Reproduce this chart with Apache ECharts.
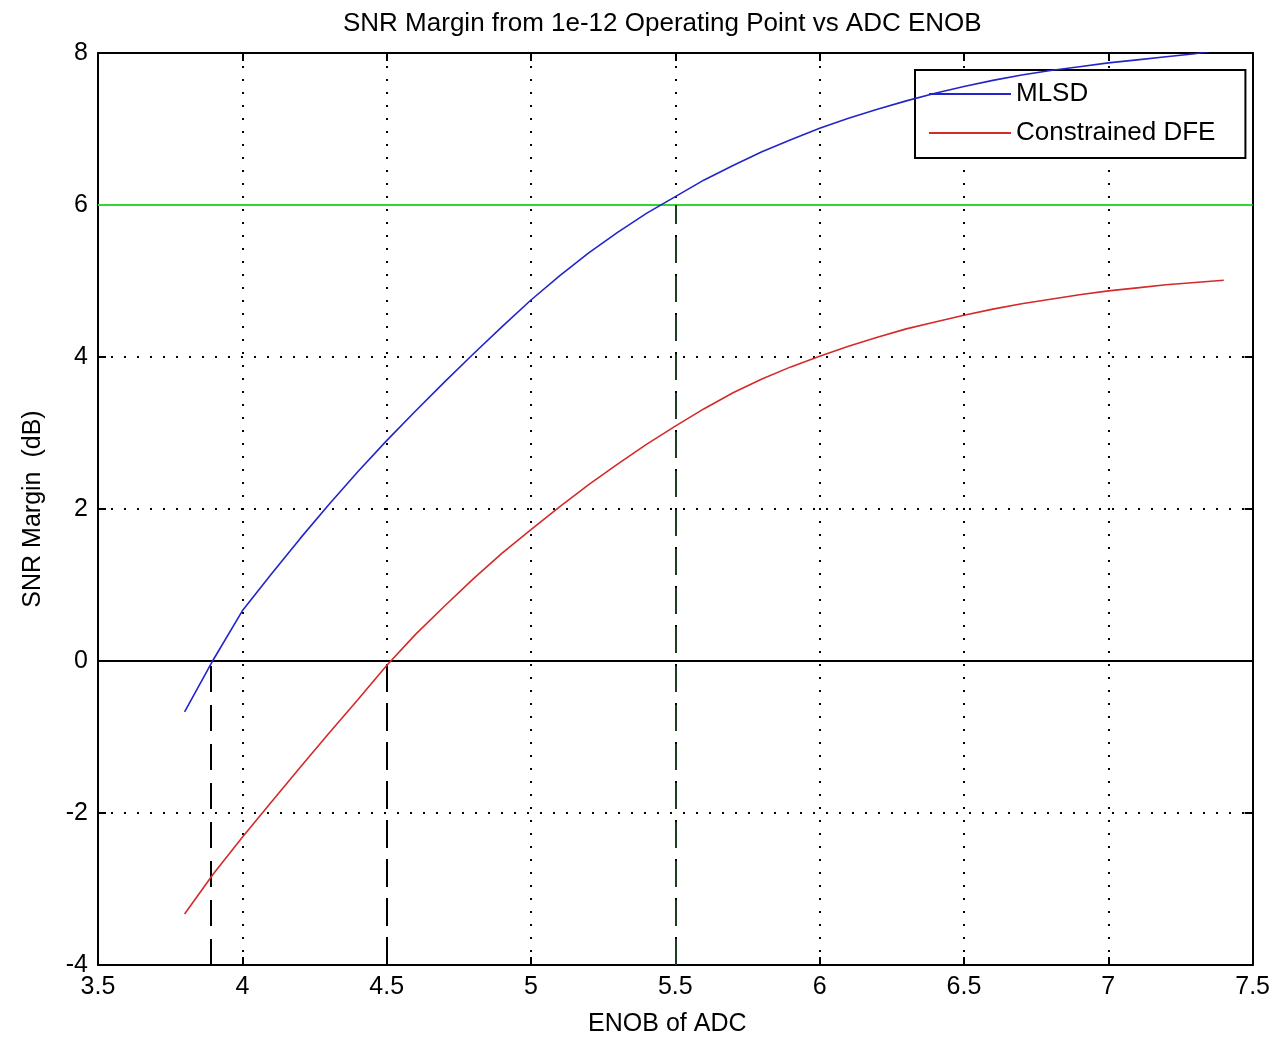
<!DOCTYPE html>
<html>
<head>
<meta charset="utf-8">
<script src="https://cdn.jsdelivr.net/npm/echarts@6/dist/echarts.min.js"></script>
<style>
html,body{margin:0;padding:0;background:#fff;}
#chart{width:1273px;height:1042px;}
</style>
</head>
<body>
<div id="chart"></div>
<script>
// ---- data ----
const enob = [3.8,3.9,4.0,4.1,4.2,4.3,4.4,4.5,4.6,4.7,4.8,4.9,5.0,5.1,5.2,5.3,5.4,5.5,5.6,5.7,5.8,5.9,6.0,6.1,6.2,6.3,6.4,6.5,6.6,6.7,6.8,6.9,7.0,7.1,7.2,7.3,7.4];
const mlsd = [-0.67,0.02,0.66,1.14,1.61,2.06,2.49,2.90,3.29,3.67,4.04,4.40,4.75,5.07,5.37,5.64,5.89,6.11,6.33,6.52,6.70,6.86,7.01,7.14,7.26,7.37,7.47,7.56,7.64,7.71,7.77,7.82,7.87,7.91,7.95,7.99,8.05];
const dfe  = [-3.33,-2.80,-2.32,-1.86,-1.40,-0.95,-0.51,-0.06,0.35,0.72,1.08,1.42,1.73,2.03,2.32,2.59,2.85,3.09,3.32,3.53,3.71,3.87,4.01,4.14,4.26,4.37,4.46,4.55,4.63,4.70,4.76,4.82,4.87,4.91,4.95,4.98,5.01];
const seriesNames = ['MLSD','Constrained DFE'];
const zeroCrossEnob = [3.89, 4.5];   // ENOB where each curve crosses 0 dB
const marginTarget = 6;              // 6 dB margin line
const targetEnob = 5.5;              // ENOB where MLSD reaches 6 dB
const xRange = [3.5, 7.5, 0.5];
const yRange = [-4, 8, 2];

const FONT = '"Liberation Sans", Arial, Helvetica, sans-serif';
const chart = echarts.init(document.getElementById('chart'));

const dotted = {color:'#000', width:2, type:[2,11]};
const tick = {show:true, inside:true, length:8, lineStyle:{color:'#000', width:2}};
const axLine = {show:true, onZero:false, lineStyle:{color:'#000', width:2}};
const labelStyle = {color:'#000', fontSize:25, fontFamily:FONT};

function pairs(xs, ys){ return xs.map((x,i)=>[x, ys[i]]); }

const option = {
  backgroundColor:'#fff',
  animation:false,
  title:{
    text:'SNR Margin from 1e-12 Operating Point vs ADC ENOB',
    left:338, top:6,
    textStyle:{color:'#000', fontSize:26, fontWeight:'normal', fontFamily:FONT}
  },
  legend:{
    orient:'vertical', left:915, top:70,
    backgroundColor:'#fff', borderColor:'#000', borderWidth:2,
    padding:[11,30,12,14],
    icon:'rect',
    itemWidth:82, itemHeight:2, itemGap:13,
    textStyle:{color:'#000', fontSize:26, lineHeight:26, fontFamily:FONT},
    data:seriesNames
  },
  grid:{left:98, right:17, top:53, bottom:76, containLabel:false},
  xAxis:[{
    type:'value', min:xRange[0], max:xRange[1], interval:xRange[2],
    name:'ENOB of ADC', nameLocation:'middle', nameGap:47,
    nameTextStyle:{color:'#000', fontSize:25, fontFamily:FONT, padding:[0,16,0,0]},
    axisLine:axLine, axisTick:tick,
    axisLabel:Object.assign({margin:10}, labelStyle),
    splitLine:{show:true, lineStyle:dotted}
  },{
    type:'value', position:'top', min:xRange[0], max:xRange[1], interval:xRange[2],
    axisLine:axLine, axisTick:tick, axisLabel:{show:false}, splitLine:{show:false}
  }],
  yAxis:[{
    type:'value', min:yRange[0], max:yRange[1], interval:yRange[2],
    name:'SNR Margin  (dB)', nameLocation:'middle', nameGap:52, nameRotate:90,
    nameTextStyle:{color:'#000', fontSize:25, fontFamily:FONT},
    axisLine:axLine, axisTick:tick,
    axisLabel:Object.assign({margin:10}, labelStyle),
    splitLine:{show:true, lineStyle:dotted}
  },{
    type:'value', position:'right', min:yRange[0], max:yRange[1], interval:yRange[2],
    axisLine:axLine, axisTick:tick, axisLabel:{show:false}, splitLine:{show:false}
  }],
  series:[{
    name:seriesNames[0], type:'line', data:pairs(enob, mlsd),
    symbol:'none', clip:true, z:5,
    lineStyle:{color:'#2424cc', width:1.6}, itemStyle:{color:'#2424cc'},
    markLine:{
      silent:true, symbol:['none','none'], label:{show:false},
      data:[
        [{coord:[xRange[0], marginTarget], lineStyle:{color:'#33d633', width:2, type:'solid'}},{coord:[xRange[1], marginTarget]}],
        [{coord:[xRange[0], 0], lineStyle:{color:'#000', width:2, type:'solid'}},{coord:[xRange[1], 0]}],
        [{coord:[zeroCrossEnob[0], yRange[0]], lineStyle:{color:'#000', width:2, type:[26,13]}},{coord:[zeroCrossEnob[0], 0]}],
        [{coord:[zeroCrossEnob[1], yRange[0]], lineStyle:{color:'#000', width:2, type:[26,13]}},{coord:[zeroCrossEnob[1], 0]}],
        [{coord:[targetEnob, yRange[0]], lineStyle:{color:'#1e3d1e', width:2, type:[26,13]}},{coord:[targetEnob, marginTarget]}]
      ]
    }
  },{
    name:seriesNames[1], type:'line', data:pairs(enob, dfe),
    symbol:'none', clip:true, z:5,
    lineStyle:{color:'#d42a2a', width:1.6}, itemStyle:{color:'#d42a2a'}
  }]
};
chart.setOption(option);
</script>
</body>
</html>
